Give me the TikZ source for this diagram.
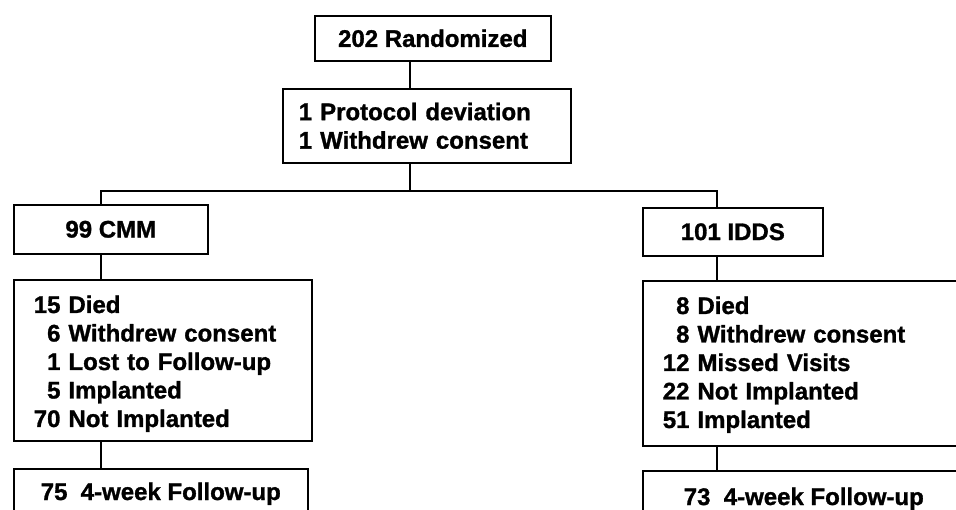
\documentclass[tikz,border=0pt]{standalone}
\usepackage{fontspec}
\setmainfont{Liberation Sans}[BoldFeatures={FakeBold=1.2}]
\begin{document}
\begin{tikzpicture}[x=1pt,y=-1pt,
  box/.style={draw, line width=1.6pt, inner sep=0pt, anchor=north west,
    font=\bfseries\fontsize{24}{28.5}\selectfont},
  detbox/.style={box, inner xsep=20pt, align=left},
  conn/.style={line width=1.6pt}]
\useasboundingbox (0,0) rectangle (956,510);
\clip (0,0) rectangle (956,510);
% boxes
\node[box, minimum width=236pt, minimum height=45pt] (rand) at (314,15) {202 Randomized};
\node[box, text width=256pt, inner xsep=16pt, align=left, minimum height=74pt] (proto) at (282,88)
  {1 Protocol deviation\\1 Withdrew consent};
\node[box, minimum width=194pt, minimum height=49pt] (cmm) at (13,204) {99 CMM};
\node[box, minimum width=180pt, minimum height=48pt] (idds) at (642,207) {101 IDDS};
\node[detbox, text width=258pt, minimum height=161pt] (cmmd) at (13,279)
  {\raisebox{-4pt}[\height][\depth]{\begin{tabular}{@{}r@{\ }l@{}}15 & Died\\ 6 & Withdrew consent\\ 1 & Lost to Follow-up\\ 5 & Implanted\\ 70 & Not Implanted\end{tabular}}};
\node[detbox, text width=290pt, minimum height=165pt] (iddsd) at (642,280)
  {\raisebox{-2pt}[\height][\depth]{\begin{tabular}{@{}r@{\ }l@{}}8 & Died\\ 8 & Withdrew consent\\ 12 & Missed Visits\\ 22 & Not Implanted\\ 51 & Implanted\end{tabular}}};
\node[box, minimum width=294pt, minimum height=50pt] (cmmf) at (13,468) {75~~4-week Follow-up};
\node[box, minimum width=322pt, minimum height=56pt] (iddsf) at (642,470) {73~~4-week Follow-up};
% connector guides
\coordinate (sp) at (410,0);
\coordinate (lx) at (101,0);
\coordinate (rx) at (717,0);
\coordinate (hy) at (0,191);
\draw[conn] (rand.south -| sp) -- (proto.north -| sp);
\draw[conn] (proto.south -| sp) -- (sp |- hy);
\draw[conn] (cmm.north -| lx) -- (lx |- hy) -- (rx |- hy) -- (idds.north -| rx);
\draw[conn] (cmm.south -| lx) -- (cmmd.north -| lx);
\draw[conn] (cmmd.south -| lx) -- (cmmf.north -| lx);
\draw[conn] (idds.south -| rx) -- (iddsd.north -| rx);
\draw[conn] (iddsd.south -| rx) -- (iddsf.north -| rx);
\end{tikzpicture}
\end{document}
